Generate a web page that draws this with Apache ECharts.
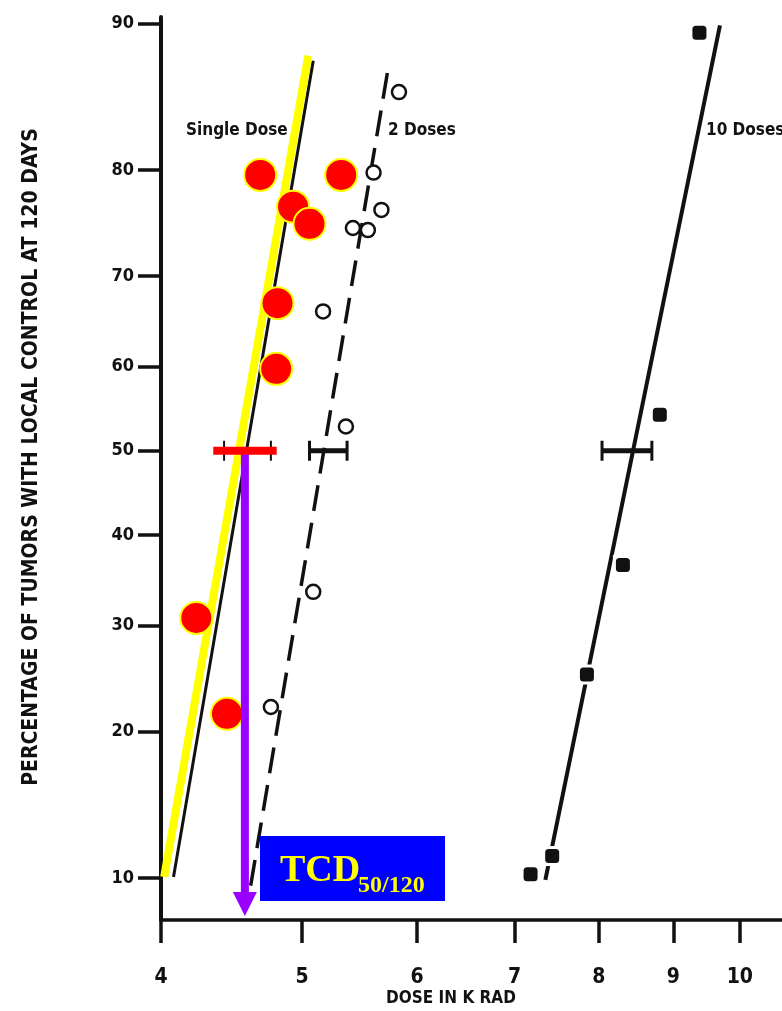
<!DOCTYPE html>
<html><head><meta charset="utf-8">
<script src="https://cdn.jsdelivr.net/npm/echarts@6/dist/echarts.min.js"></script>
<style>html,body{margin:0;padding:0;background:#fff}#c{width:782px;height:1011px}</style>
</head><body><div id="c"></div>
<script>
// ---------------- data ----------------
const xTickValues = [4, 5, 6, 7, 8, 9, 10];
const yTickValues = [10, 20, 30, 40, 50, 60, 70, 80, 90];
const xRange = [4, 10.69];        // dose, K rad
const yRange = [7.96, 90.34];     // percent

// [dose, percent]
const singleDosePoints = [[4.68,79.6],[5.32,79.6],[4.93,76.8],[5.06,75.2],[4.81,67.1],[4.80,59.7],[4.23,30.8],[4.44,21.5]];
const twoDosePoints = [[5.83,85.9],[5.60,79.8],[5.67,76.5],[5.42,74.8],[5.55,74.6],[5.17,66.2],[5.36,52.9],[5.09,33.6],[4.76,22.1]];
const tenDosePoints = [[9.38,89.5],[8.81,54.3],[8.31,36.6],[7.85,25.1],[7.43,11.2],[7.18,10.2]];

const singleFit = [[4.08,10.05],[5.09,87.9]];
const singleFitHighlight = [[4.02,10.05],[5.05,88.2]];
const twoFit = [[4.61,9.6],[5.74,87.8]];
const tenFit = [[7.35,9.9],[9.69,89.9]];

// TCD50 confidence ranges [low dose, high dose] at 50 %
const tcdLevel = 50;
const tcdRanges = [[4.42,4.76],[5.06,5.37],[8.04,8.70]];
const tcdHighlight = [[4.345,50],[4.804,50]];
const tcdArrow = [[4.568,50],[4.568,8.69]];

const seriesLabels = ['Single Dose', '2 Doses', '10 Doses'];
const xTitle = 'DOSE IN K RAD';
const yTitle = 'PERCENTAGE OF TUMORS WITH LOCAL CONTROL AT 120 DAYS';

// ---------------- scales ----------------
function probit(p){
  const a=[-3.969683028665376e+01,2.209460984245205e+02,-2.759285104469687e+02,1.383577518672690e+02,-3.066479806614716e+01,2.506628277459239e+00];
  const b=[-5.447609879822406e+01,1.615858368580409e+02,-1.556989798598866e+02,6.680131188771972e+01,-1.328068155288572e+01];
  const c=[-7.784894002430293e-03,-3.223964580411365e-01,-2.400758277161838e+00,-2.549732539343734e+00,4.374664141464968e+00,2.938163982698783e+00];
  const d=[7.784695709041462e-03,3.224671290700398e-01,2.445134137142996e+00,3.754408661907416e+00];
  const pl=0.02425, ph=1-pl; let q,r;
  if(p<pl){q=Math.sqrt(-2*Math.log(p));return (((((c[0]*q+c[1])*q+c[2])*q+c[3])*q+c[4])*q+c[5])/((((d[0]*q+d[1])*q+d[2])*q+d[3])*q+1);}
  if(p<=ph){q=p-0.5;r=q*q;return (((((a[0]*r+a[1])*r+a[2])*r+a[3])*r+a[4])*r+a[5])*q/(((((b[0]*r+b[1])*r+b[2])*r+b[3])*r+b[4])*r+1);}
  q=Math.sqrt(-2*Math.log(1-p));return -(((((c[0]*q+c[1])*q+c[2])*q+c[3])*q+c[4])*q+c[5])/((((d[0]*q+d[1])*q+d[2])*q+d[3])*q+1);
}
const fx = d => Math.log10(d);
const fy = p => probit(p/100);
const toXY = pt => [fx(pt[0]), fy(pt[1])];

const FONT = '"Liberation Sans Narrow","DejaVu Sans Condensed","Arial Narrow",sans-serif';
const INK = '#111';

const chart = echarts.init(document.getElementById('c'), null, {renderer:'canvas'});

const xTickPos = xTickValues.map(fx);
const yTickPos = yTickValues.map(fy);

const option = {
  backgroundColor:'#fff',
  animation:false,
  grid:{left:161, right:0, top:17, bottom:91, containLabel:false},
  xAxis:{
    type:'value', min:fx(xRange[0]), max:fx(xRange[1]),
    axisLine:{show:true, onZero:false, lineStyle:{color:INK, width:3.5}},
    axisTick:{show:true, inside:false, length:23, customValues:xTickPos, lineStyle:{color:INK, width:3.5}},
    axisLabel:{show:true, customValues:xTickPos, margin:47, fontFamily:FONT, fontWeight:'bold', fontSize:21, color:INK,
      formatter:v=>{const i=xTickPos.findIndex(t=>Math.abs(t-v)<1e-9);return i>=0?String(xTickValues[i]):'';}},
    splitLine:{show:false}
  },
  yAxis:{
    type:'value', min:fy(yRange[0]), max:fy(yRange[1]),
    axisLine:{show:true, onZero:false, lineStyle:{color:INK, width:4}},
    axisTick:{show:true, inside:false, length:23, customValues:yTickPos, lineStyle:{color:INK, width:3.5}},
    axisLabel:{show:true, customValues:yTickPos, margin:27, fontFamily:FONT, fontWeight:'bold', fontSize:18, color:INK,
      formatter:v=>{const i=yTickPos.findIndex(t=>Math.abs(t-v)<1e-9);return i>=0?String(yTickValues[i]):'';}},
    splitLine:{show:false}
  },
  series:[
    {type:'line', z:2, data:singleFit.map(toXY), symbol:'none', lineStyle:{color:INK, width:3}, silent:true},
    {type:'line', z:3, data:singleFitHighlight.map(toXY), symbol:'none', lineStyle:{color:'#FFFF00', width:8}, silent:true},
    {type:'line', z:2, data:twoFit.map(toXY), symbol:'none', lineStyle:{color:INK, width:3.5, type:[26,12]}, silent:true},
    {type:'line', z:2, data:tenFit.map(toXY), symbol:'none', lineStyle:{color:INK, width:4}, silent:true},
    {type:'custom', z:5, silent:true,
      data:tcdRanges.map(r=>[fx(r[0]), fx(r[1]), fy(tcdLevel)]),
      encode:{x:[0,1], y:2},
      renderItem:(params, api)=>{
        const lo = api.coord([api.value(0), api.value(2)]);
        const hi = api.coord([api.value(1), api.value(2)]);
        const w = params.dataIndex===0 ? 2 : 5;
        const cw = params.dataIndex===0 ? 2 : 3;
        const h = 10;
        return {type:'group', children:[
          {type:'line', shape:{x1:lo[0],y1:lo[1],x2:hi[0],y2:hi[1]}, style:{stroke:INK, lineWidth:w}},
          {type:'line', shape:{x1:lo[0],y1:lo[1]-h,x2:lo[0],y2:lo[1]+h}, style:{stroke:INK, lineWidth:cw}},
          {type:'line', shape:{x1:hi[0],y1:hi[1]-h,x2:hi[0],y2:hi[1]+h}, style:{stroke:INK, lineWidth:cw}}
        ]};
      }},
    // white halo around squares (line interrupted at each point)
    {type:'scatter', z:4, data:tenDosePoints.map(toXY), symbol:'rect', symbolSize:20, itemStyle:{color:'#fff', opacity:1}, silent:true},
    {type:'scatter', z:5, data:tenDosePoints.map(toXY), symbol:'roundRect', symbolSize:14, itemStyle:{color:INK, opacity:1}, silent:true},
    {type:'scatter', z:5, data:twoDosePoints.map(toXY), symbol:'circle', symbolSize:14, itemStyle:{color:'#fff', borderColor:INK, borderWidth:2.5, opacity:1}, silent:true},
    {type:'scatter', z:6, data:singleDosePoints.map(toXY), symbol:'circle', symbolSize:32, itemStyle:{color:'#FF0000', borderColor:'#FFFF00', borderWidth:2, opacity:1}, silent:true},
    {type:'line', z:7, data:tcdArrow.map(toXY), symbol:'none', lineStyle:{color:'#9900FF', width:8}, silent:true},
    {type:'scatter', z:7, data:[toXY(tcdArrow[1])], symbol:'triangle', symbolRotate:180, symbolSize:[24,24], itemStyle:{color:'#9900FF', opacity:1}, silent:true},
    {type:'line', z:8, data:tcdHighlight.map(toXY), symbol:'none', lineStyle:{color:'#FF0000', width:8}, silent:true}
  ],
  graphic:[
    {type:'text', z:10, style:{text:seriesLabels[0], x:186, y:130.5, verticalAlign:'middle', font:'bold 17px '+FONT, fill:INK}},
    {type:'text', z:10, style:{text:seriesLabels[1], x:388, y:130.5, verticalAlign:'middle', font:'bold 17px '+FONT, fill:INK}},
    {type:'text', z:10, style:{text:seriesLabels[2], x:706, y:130.5, verticalAlign:'middle', font:'bold 17px '+FONT, fill:INK}},
    {type:'text', z:10, style:{text:xTitle, x:451, y:999, align:'center', verticalAlign:'middle', font:'bold 17px '+FONT, fill:INK}},
    {type:'text', z:10, x:32, y:457, rotation:Math.PI/2, style:{text:yTitle, x:0, y:0, align:'center', verticalAlign:'middle', font:'bold 21px '+FONT, fill:INK}},
    {type:'rect', z:10, shape:{x:260, y:836, width:185, height:65}, style:{fill:'#0000FF'}},
    {type:'text', z:11, style:{text:'TCD', x:280, y:871.5, verticalAlign:'middle', font:'bold 38px "Liberation Serif","Times New Roman",serif', fill:'#FFFF00', textShadowColor:'#000', textShadowOffsetX:2, textShadowOffsetY:2, textShadowBlur:0}},
    {type:'text', z:11, style:{text:'50/120', x:358, y:885.5, verticalAlign:'middle', font:'bold 24px "Liberation Serif","Times New Roman",serif', fill:'#FFFF00', textShadowColor:'#000', textShadowOffsetX:1.5, textShadowOffsetY:1.5, textShadowBlur:0}}
  ]
};
chart.setOption(option);
</script></body></html>
